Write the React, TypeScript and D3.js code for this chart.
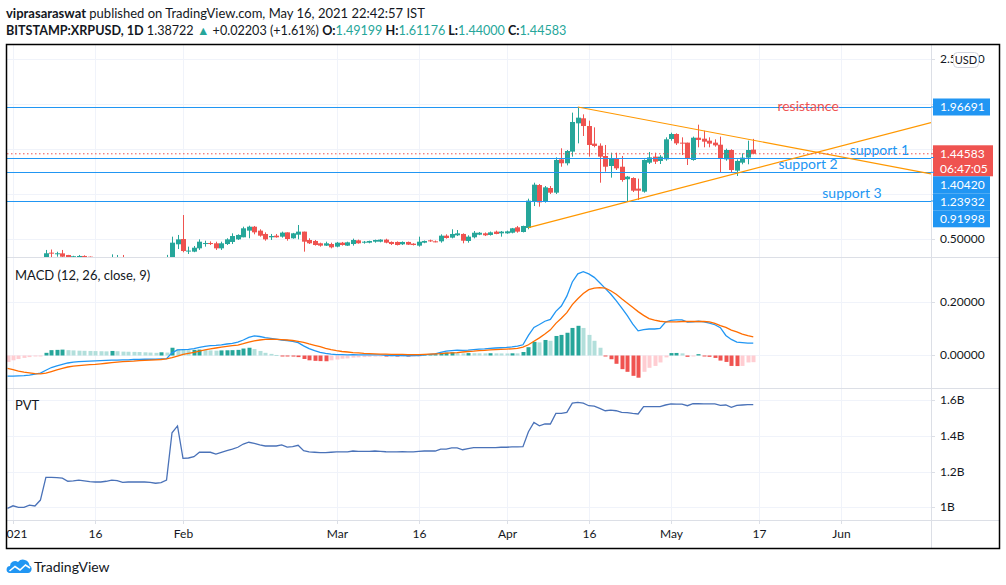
import * as d3 from "d3";

// Daily XRPUSD candles [open, high, low, close], first bar 2020-12-31
const START = Date.UTC(2020, 11, 31);
const CANDLES: [number, number, number, number][] = [
  [0.218, 0.23, 0.21, 0.22], [0.22, 0.245, 0.215, 0.237], [0.237, 0.24, 0.215, 0.222], [0.222, 0.232, 0.216, 0.228],
  [0.228, 0.25, 0.205, 0.236], [0.236, 0.242, 0.218, 0.226], [0.226, 0.265, 0.225, 0.255], [0.255, 0.375, 0.25, 0.338],
  [0.345, 0.38, 0.285, 0.34], [0.335, 0.355, 0.3, 0.338], [0.337, 0.375, 0.285, 0.3], [0.319, 0.32, 0.245, 0.27],
  [0.285, 0.31, 0.275, 0.305], [0.29, 0.319, 0.28, 0.308], [0.308, 0.315, 0.29, 0.298], [0.3, 0.302, 0.27, 0.28],
  [0.28, 0.29, 0.27, 0.285], [0.285, 0.29, 0.275, 0.28], [0.28, 0.29, 0.27, 0.285], [0.285, 0.326, 0.28, 0.29],
  [0.285, 0.319, 0.265, 0.29], [0.29, 0.319, 0.25, 0.26], [0.26, 0.275, 0.245, 0.272], [0.272, 0.275, 0.26, 0.265],
  [0.265, 0.28, 0.26, 0.275], [0.275, 0.28, 0.265, 0.27], [0.27, 0.275, 0.26, 0.268], [0.268, 0.27, 0.25, 0.255],
  [0.255, 0.275, 0.25, 0.268], [0.268, 0.32, 0.26, 0.29], [0.29, 0.523, 0.28, 0.456], [0.438, 0.542, 0.385, 0.493],
  [0.497, 0.764, 0.349, 0.363], [0.358, 0.412, 0.33, 0.368], [0.356, 0.419, 0.35, 0.4], [0.393, 0.493, 0.375, 0.467],
  [0.447, 0.478, 0.412, 0.452], [0.452, 0.47, 0.43, 0.447], [0.449, 0.467, 0.375, 0.393], [0.393, 0.467, 0.375, 0.449],
  [0.441, 0.505, 0.43, 0.493], [0.464, 0.56, 0.441, 0.53], [0.493, 0.549, 0.486, 0.542], [0.516, 0.634, 0.516, 0.616],
  [0.59, 0.645, 0.505, 0.634], [0.634, 0.642, 0.549, 0.571], [0.59, 0.605, 0.523, 0.534], [0.553, 0.571, 0.478, 0.493],
  [0.516, 0.553, 0.486, 0.53], [0.534, 0.553, 0.512, 0.516], [0.523, 0.579, 0.512, 0.568], [0.571, 0.571, 0.478, 0.497],
  [0.505, 0.565, 0.5, 0.56], [0.545, 0.653, 0.493, 0.579], [0.579, 0.579, 0.356, 0.467], [0.486, 0.505, 0.441, 0.449],
  [0.475, 0.486, 0.423, 0.43], [0.449, 0.456, 0.412, 0.423], [0.423, 0.467, 0.419, 0.449], [0.441, 0.456, 0.393, 0.404],
  [0.412, 0.464, 0.404, 0.456], [0.456, 0.464, 0.423, 0.43], [0.423, 0.467, 0.42, 0.46], [0.441, 0.501, 0.423, 0.486],
  [0.482, 0.49, 0.445, 0.449], [0.456, 0.475, 0.445, 0.467], [0.456, 0.478, 0.449, 0.475], [0.467, 0.49, 0.456, 0.486],
  [0.467, 0.494, 0.46, 0.49], [0.49, 0.5, 0.449, 0.456], [0.464, 0.47, 0.43, 0.441], [0.464, 0.47, 0.425, 0.43],
  [0.438, 0.47, 0.43, 0.464], [0.464, 0.468, 0.43, 0.434], [0.445, 0.45, 0.425, 0.43], [0.423, 0.523, 0.412, 0.467],
  [0.456, 0.48, 0.45, 0.475], [0.482, 0.49, 0.465, 0.471], [0.471, 0.48, 0.46, 0.464], [0.471, 0.549, 0.456, 0.534],
  [0.534, 0.549, 0.501, 0.508], [0.512, 0.605, 0.504, 0.553], [0.538, 0.597, 0.53, 0.56], [0.553, 0.56, 0.449, 0.478],
  [0.475, 0.538, 0.456, 0.523], [0.516, 0.586, 0.504, 0.567], [0.545, 0.575, 0.54, 0.567], [0.56, 0.57, 0.53, 0.538],
  [0.542, 0.58, 0.535, 0.571], [0.579, 0.59, 0.55, 0.553], [0.56, 0.586, 0.523, 0.579], [0.56, 0.59, 0.555, 0.582],
  [0.567, 0.62, 0.56, 0.616], [0.627, 0.642, 0.567, 0.579], [0.575, 0.645, 0.57, 0.642], [0.62, 0.946, 0.605, 0.924],
  [0.913, 1.124, 0.864, 1.102], [1.098, 1.109, 0.857, 0.905], [0.916, 1.087, 0.902, 1.072], [1.065, 1.087, 0.998, 1.013],
  [1.013, 1.406, 0.998, 1.377], [1.384, 1.507, 1.302, 1.34], [1.34, 1.488, 1.317, 1.477], [1.47, 1.904, 1.414, 1.8],
  [1.785, 1.96691, 1.562, 1.848], [1.841, 1.885, 1.644, 1.755], [1.755, 1.815, 1.414, 1.544], [1.559, 1.74, 1.518, 1.533],
  [1.536, 1.562, 1.124, 1.414], [1.421, 1.544, 1.247, 1.302], [1.31, 1.458, 1.18, 1.395], [1.388, 1.458, 1.265, 1.284],
  [1.302, 1.421, 1.135, 1.154], [1.162, 1.199, 0.91998, 1.191], [1.176, 1.184, 1.02, 1.035], [1.058, 1.169, 0.931, 1.035],
  [1.024, 1.384, 1.013, 1.377], [1.347, 1.466, 1.332, 1.406], [1.414, 1.458, 1.332, 1.358], [1.366, 1.432, 1.332, 1.414],
  [1.384, 1.629, 1.369, 1.607], [1.611, 1.681, 1.592, 1.666], [1.666, 1.674, 1.544, 1.562], [1.57, 1.629, 1.432, 1.559],
  [1.57, 1.57, 1.321, 1.392], [1.377, 1.637, 1.369, 1.625], [1.625, 1.77, 1.518, 1.6], [1.614, 1.703, 1.518, 1.581],
  [1.592, 1.629, 1.518, 1.559], [1.57, 1.607, 1.525, 1.54], [1.547, 1.637, 1.236, 1.395], [1.384, 1.503, 1.369, 1.488],
  [1.488, 1.496, 1.236, 1.265], [1.258, 1.384, 1.199, 1.366], [1.347, 1.451, 1.329, 1.403], [1.403, 1.592, 1.329, 1.488],
  [1.49199, 1.61176, 1.44, 1.44583],
];

// MACD (12, 26, close, 9): macd line, signal line, histogram
const MACD_LINE = [
  -0.077, -0.077, -0.076, -0.075, -0.073, -0.07, -0.066, -0.055, -0.045, -0.039, -0.033, -0.028, -0.025, -0.023, -0.022,
  -0.021, -0.02, -0.019, -0.018, -0.017, -0.017, -0.016, -0.016, -0.015, -0.015, -0.014, -0.014, -0.014, -0.013, -0.012,
  0.01, 0.021, 0.022, 0.023, 0.026, 0.03, 0.034, 0.037, 0.038, 0.04, 0.043, 0.045, 0.05, 0.058, 0.068, 0.073, 0.071,
  0.067, 0.064, 0.061, 0.058, 0.056, 0.053, 0.048, 0.036, 0.026, 0.018, 0.012, 0.008, 0.005, 0.003, 0.003, 0.002, 0.003,
  0.002, 0.002, 0.002, 0.002, 0.002, 0.001, 0, 0, 0, -0.001, 0, 0, 0.002, 0.004, 0.006, 0.012, 0.016, 0.018, 0.02, 0.019,
  0.02, 0.022, 0.024, 0.025, 0.027, 0.028, 0.029, 0.03, 0.032, 0.035, 0.04, 0.075, 0.105, 0.116, 0.128, 0.135, 0.165,
  0.185, 0.222, 0.275, 0.305, 0.313, 0.305, 0.292, 0.272, 0.251, 0.23, 0.205, 0.178, 0.15, 0.118, 0.092, 0.097, 0.099,
  0.099, 0.101, 0.125, 0.131, 0.133, 0.133, 0.125, 0.126, 0.128, 0.126, 0.121, 0.115, 0.104, 0.075, 0.06, 0.05, 0.048,
  0.046, 0.046,
];
const SIGNAL_LINE = [
  -0.048, -0.053, -0.058, -0.062, -0.065, -0.068, -0.069, -0.066, -0.06, -0.054, -0.048, -0.043, -0.04, -0.038, -0.036,
  -0.034, -0.033, -0.031, -0.029, -0.027, -0.025, -0.023, -0.022, -0.021, -0.019, -0.018, -0.017, -0.016, -0.015, -0.013,
  -0.008, -0.002, 0.004, 0.008, 0.012, 0.016, 0.021, 0.025, 0.028, 0.031, 0.034, 0.037, 0.039, 0.044, 0.05, 0.055, 0.058,
  0.06, 0.061, 0.06, 0.059, 0.058, 0.056, 0.053, 0.049, 0.043, 0.038, 0.033, 0.027, 0.022, 0.018, 0.015, 0.013, 0.011,
  0.01, 0.008, 0.007, 0.006, 0.005, 0.005, 0.004, 0.004, 0.004, 0.003, 0.003, 0.003, 0.004, 0.005, 0.006, 0.007, 0.009,
  0.01, 0.011, 0.013, 0.015, 0.016, 0.018, 0.019, 0.021, 0.022, 0.023, 0.024, 0.025, 0.027, 0.031, 0.04, 0.053, 0.066,
  0.08, 0.096, 0.12, 0.139, 0.16, 0.19, 0.212, 0.232, 0.246, 0.252, 0.254, 0.252, 0.242, 0.229, 0.212, 0.196, 0.18, 0.164,
  0.15, 0.138, 0.132, 0.128, 0.126, 0.126, 0.126, 0.127, 0.127, 0.127, 0.127, 0.127, 0.126, 0.12, 0.112, 0.105, 0.095,
  0.088, 0.08, 0.074, 0.07,
];
const HISTOGRAM = [
  -0.024, -0.018, -0.013, -0.009, -0.006, -0.003, -0.001, 0.01, 0.02, 0.021, 0.022, 0.02, 0.019, 0.018, 0.0175, 0.017,
  0.0165, 0.016, 0.0155, 0.017, 0.016, 0.0145, 0.014, 0.0135, 0.013, 0.012, 0.011, 0.01, 0.012, 0.011, 0.029, 0.024, 0.022,
  0.02, 0.021, 0.022, 0.02, 0.019, 0.018, 0.019, 0.0195, 0.02, 0.021, 0.026, 0.029, 0.024, 0.017, 0.01, 0.006, 0.002,
  -0.002, -0.003, -0.004, -0.006, -0.013, -0.018, -0.02, -0.021, -0.0215, -0.018, -0.015, -0.012, -0.011, -0.008, -0.007,
  -0.006, -0.005, -0.004, -0.003, -0.004, -0.0035, -0.004, -0.0035, -0.004, -0.0035, -0.003, 0.004, 0.0045, 0.005, 0.01,
  0.011, 0.012, 0.009, 0.008, 0.009, 0.0085, 0.0082, 0.008, 0.0085, 0.008, 0.0078, 0.0076, 0.0082, 0.0079, 0.013, 0.031,
  0.051, 0.049, 0.058, 0.055, 0.073, 0.077, 0.085, 0.103, 0.111, 0.103, 0.077, 0.055, 0.029, -0.002, -0.014, -0.031,
  -0.051, -0.061, -0.076, -0.083, -0.061, -0.046, -0.039, -0.026, -0.007, 0.009, 0.0095, 0.008, -0.005, -0.003, 0.005,
  -0.003, -0.005, -0.009, -0.019, -0.024, -0.039, -0.0395, -0.039, -0.026, -0.025,
];

// Price Volume Trend, billions
const PVT = [
  0.995, 1.009, 1.0, 1.0, 1.013, 1.008, 1.041, 1.168, 1.168, 1.166, 1.163, 1.146, 1.148, 1.152, 1.148, 1.144, 1.142,
  1.142, 1.146, 1.152, 1.15, 1.14, 1.142, 1.142, 1.142, 1.142, 1.14, 1.135, 1.138, 1.153, 1.417, 1.455, 1.274, 1.276,
  1.283, 1.308, 1.308, 1.308, 1.298, 1.308, 1.317, 1.326, 1.336, 1.354, 1.364, 1.358, 1.349, 1.343, 1.343, 1.343, 1.349,
  1.337, 1.339, 1.347, 1.317, 1.31, 1.308, 1.306, 1.306, 1.308, 1.31, 1.31, 1.31, 1.315, 1.313, 1.313, 1.313, 1.315,
  1.313, 1.311, 1.31, 1.31, 1.311, 1.31, 1.31, 1.313, 1.315, 1.315, 1.315, 1.326, 1.326, 1.332, 1.332, 1.322, 1.328,
  1.334, 1.334, 1.334, 1.334, 1.334, 1.336, 1.336, 1.338, 1.338, 1.339, 1.423, 1.475, 1.456, 1.466, 1.466, 1.525, 1.525,
  1.531, 1.582, 1.587, 1.582, 1.568, 1.566, 1.553, 1.54, 1.543, 1.54, 1.531, 1.529, 1.525, 1.522, 1.563, 1.563, 1.563,
  1.563, 1.572, 1.578, 1.577, 1.577, 1.568, 1.579, 1.579, 1.578, 1.578, 1.578, 1.57, 1.572, 1.559, 1.57, 1.572, 1.574,
  1.574,
];

const LEVELS = [
  { name: "resistance", value: 1.96691 },
  { name: "support 1", value: 1.4042 },
  { name: "support 2", value: 1.23932 },
  { name: "support 3", value: 0.91998 },
];
const TRENDLINES: [string, number, string, number][] = [
  ["2021-04-14", 1.96691, "2021-05-16", 1.597],
  ["2021-04-05", 0.623, "2021-05-16", 1.2765],
];
const TIME_TICKS: [string, string][] = [
  ["2021-01-01", "2021"], ["2021-01-16", "16"], ["2021-02-01", "Feb"], ["2021-03-01", "Mar"], ["2021-03-16", "16"],
  ["2021-04-01", "Apr"], ["2021-04-16", "16"], ["2021-05-01", "May"], ["2021-05-17", "17"], ["2021-06-01", "Jun"],
];
const PRICE_TICKS = [0.5, 1, 1.5, 2, 2.5];
const MACD_TICKS = [0, 0.2];
const PVT_TICKS = [1, 1.2, 1.4, 1.6];
const COUNTDOWN = "06:47:05";
const PREV_CLOSE = "1.38722";
const CHANGE = "+0.02203 (+1.61%)";

// where each level's caption sits: date, and whether it rides on or above the line
const LEVEL_CAPTIONS: Record<string, { at: string; color: string; onLine: boolean }> = {
  resistance: { at: "2021-05-26", color: "#f05350", onLine: true },
  "support 1": { at: "2021-06-08", color: "#2196f3", onLine: false },
  "support 2": { at: "2021-05-26", color: "#2196f3", onLine: false },
  "support 3": { at: "2021-06-03", color: "#2196f3", onLine: false },
};

const GREEN = "#26a69a";
const RED = "#ef5350";
const BLUE = "#2196f3";
const ORANGE = "#ff9800";
const GRID = "#f0f3fa";
const SEP = "#dcdfe6";
const TEXT = "#131722";
const FONT = "Lato, 'Open Sans', sans-serif";

const parse = d3.utcParse("%Y-%m-%d");

const L = 7, R = 999, PR = 931, TOP = 45, BOT = 548;
const MAIN: [number, number] = [45, 257];
const MACDP: [number, number] = [257, 388];
const PVTP: [number, number] = [388, 520];

export default function App() {
  const dates = CANDLES.map((_, i) => d3.utcDay.offset(new Date(START), i));
  const x = d3.scaleUtc().domain([parse("2021-01-01")!, parse("2021-06-01")!]).range([13, 841]);
  const y = d3.scaleLinear().domain([0.2965, 2.6573]).range([MAIN[1], MAIN[0]]);
  const yM = d3.scaleLinear().domain([-0.1215, 0.3682]).range([MACDP[1], MACDP[0]]);
  const yP = d3.scaleLinear().domain([0.9296, 1.667]).range([PVTP[1], PVTP[0]]);
  const fmt5 = d3.format(".5f");
  const fmtB = (v: number) => `${d3.format("~g")(v)}B`;
  const cx = (i: number) => Math.round(x(dates[i])) + 0.5;

  const macdPath = d3.line<number>().x((_, i) => x(dates[i])).y((v) => yM(v))(MACD_LINE)!;
  const signalPath = d3.line<number>().x((_, i) => x(dates[i])).y((v) => yM(v))(SIGNAL_LINE)!;
  const pvtPath = d3.line<number>().x((_, i) => x(dates[i])).y((v) => yP(v))(PVT)!;

  const histColor = (i: number) => {
    const v = HISTOGRAM[i];
    const prev = i > 0 ? HISTOGRAM[i - 1] : -Infinity;
    if (v >= 0) return prev < v ? "#26a69a" : "#b2dfdb";
    return prev < v ? "#ffcdd2" : "#f05350";
  };

  // trend rays: start at first anchor, extended to the price scale
  const rays = TRENDLINES.map(([d1, v1, d2, v2]) => {
    const x1 = x(parse(d1)!), y1 = y(v1), x2 = x(parse(d2)!), y2 = y(v2);
    const k = (y2 - y1) / (x2 - x1);
    return { x1, y1, x2: PR, y2: y1 + k * (PR - x1) };
  });

  const last = CANDLES[CANDLES.length - 1];
  const lastClose = last[3];

  // price-scale markers, stacked so they never overlap
  const markers = [
    ...LEVELS.map((l) => ({ value: l.value, color: BLUE, h: 17, lines: [fmt5(l.value)] })),
    { value: lastClose, color: RED, h: 31, lines: [fmt5(lastClose), COUNTDOWN] },
  ]
    .map((m) => ({ ...m, top: y(m.value) - 8.5 }))
    .sort((a, b) => a.top - b.top);
  let floor = -Infinity;
  markers.forEach((m) => {
    m.top = Math.max(m.top, floor);
    floor = m.top + m.h;
  });
  // tick labels hidden under a marker are skipped, as on the live scale
  const freeTicks = PRICE_TICKS.filter((v) => {
    const ty = y(v);
    return !markers.some((m) => ty > m.top - 4 && ty < m.top + m.h + 4);
  });

  return (
    <svg
      width={1006}
      height={585}
      style={{ position: "absolute", left: 0, top: 0, background: "#fff" }}
      fontFamily={FONT}
    >
      <defs>
        <clipPath id="clip-main"><rect x={L} y={MAIN[0]} width={PR - L} height={MAIN[1] - MAIN[0]} /></clipPath>
        <clipPath id="clip-macd"><rect x={L} y={MACDP[0]} width={PR - L} height={MACDP[1] - MACDP[0]} /></clipPath>
        <clipPath id="clip-pvt"><rect x={L} y={PVTP[0]} width={PR - L} height={PVTP[1] - PVTP[0]} /></clipPath>
        <clipPath id="clip-time"><rect x={L} y={PVTP[1]} width={PR - L} height={BOT - PVTP[1]} /></clipPath>
      </defs>
      <rect width={1006} height={585} fill="#fff" />

      {/* header */}
      <text x={6} y={17.5} fontSize={13} fill={TEXT}>
        <tspan fontWeight={700}>viprasaraswat</tspan>
        <tspan> published on TradingView.com, May 16, 2021 22:42:57 IST</tspan>
      </text>
      <text x={6} y={34.5} fontSize={12.6} fill={TEXT}>
        <tspan fontWeight={700}>BITSTAMP:XRPUSD, 1D</tspan>
        <tspan> {PREV_CLOSE} </tspan>
        <tspan fill={GREEN}>▲</tspan>
        <tspan> {CHANGE} </tspan>
        <tspan fontWeight={700}>O:</tspan><tspan fill={GREEN}>{fmt5(last[0])}</tspan>
        <tspan fontWeight={700}> H:</tspan><tspan fill={GREEN}>{fmt5(last[1])}</tspan>
        <tspan fontWeight={700}> L:</tspan><tspan fill={GREEN}>{fmt5(last[2])}</tspan>
        <tspan fontWeight={700}> C:</tspan><tspan fill={GREEN}>{fmt5(last[3])}</tspan>
      </text>

      {/* grid */}
      <g stroke={GRID} strokeWidth={1}>
        {TIME_TICKS.map(([d]) => (
          <line key={d} x1={Math.round(x(parse(d)!)) + 0.5} x2={Math.round(x(parse(d)!)) + 0.5} y1={TOP} y2={PVTP[1]} />
        ))}
        {PRICE_TICKS.map((v) => (
          <line key={`p${v}`} x1={L} x2={PR} y1={Math.round(y(v)) + 0.5} y2={Math.round(y(v)) + 0.5} />
        ))}
        {MACD_TICKS.map((v) => (
          <line key={`m${v}`} x1={L} x2={PR} y1={Math.round(yM(v)) + 0.5} y2={Math.round(yM(v)) + 0.5} />
        ))}
        {PVT_TICKS.map((v) => (
          <line key={`v${v}`} x1={L} x2={PR} y1={Math.round(yP(v)) + 0.5} y2={Math.round(yP(v)) + 0.5} />
        ))}
      </g>

      {/* candles */}
      <g clipPath="url(#clip-main)">
        {CANDLES.map(([o, h, l, c], i) => {
          const col = c >= o ? GREEN : RED;
          const top = y(Math.max(o, c));
          const bh = Math.max(1, y(Math.min(o, c)) - top);
          return (
            <g key={i}>
              <line x1={cx(i)} x2={cx(i)} y1={y(h)} y2={y(l)} stroke={col} strokeWidth={1} />
              <rect x={cx(i) - 2.5} y={top} width={5} height={bh} fill={col} />
            </g>
          );
        })}
      </g>

      {/* drawings */}
      <g clipPath="url(#clip-main)">
        {LEVELS.map((l) => (
          <line key={l.name} x1={L} x2={PR} y1={Math.round(y(l.value)) + 0.5} y2={Math.round(y(l.value)) + 0.5} stroke={BLUE} strokeWidth={1.2} />
        ))}
        {rays.map((r, i) => (
          <line key={i} x1={r.x1} y1={r.y1} x2={r.x2} y2={r.y2} stroke={ORANGE} strokeWidth={1.2} />
        ))}
        <line x1={L} x2={PR} y1={y(lastClose)} y2={y(lastClose)} stroke={RED} strokeWidth={1} strokeDasharray="1.5 2.5" />
        {LEVELS.map((l) => {
          const cap = LEVEL_CAPTIONS[l.name];
          return (
            <text
              key={`t${l.name}`}
              x={x(parse(cap.at)!)}
              y={cap.onLine ? y(l.value) + 4.5 : y(l.value) - 3}
              textAnchor="middle"
              fontSize={14}
              fill={cap.color}
            >
              {l.name}
            </text>
          );
        })}
      </g>

      {/* MACD */}
      <text x={15} y={279.5} fontSize={13} fill={TEXT}>MACD (12, 26, close, 9)</text>
      <g clipPath="url(#clip-macd)">
        {HISTOGRAM.map((v, i) => {
          const top = yM(Math.max(v, 0));
          const hh = Math.max(1, Math.abs(yM(v) - yM(0)));
          return <rect key={i} x={cx(i) - 2} y={v >= 0 ? top : yM(0)} width={4} height={hh} fill={histColor(i)} />;
        })}
        <path d={macdPath} fill="none" stroke="#2196f3" strokeWidth={1.3} />
        <path d={signalPath} fill="none" stroke="#ff6d00" strokeWidth={1.3} />
      </g>

      {/* PVT */}
      <text x={15} y={409.5} fontSize={13} fill={TEXT}>PVT</text>
      <g clipPath="url(#clip-pvt)">
        <path d={pvtPath} fill="none" stroke="#4a72b8" strokeWidth={1.3} />
      </g>

      {/* separators */}
      <g stroke={SEP} strokeWidth={1}>
        <line x1={L} x2={R} y1={MAIN[1] + 0.5} y2={MAIN[1] + 0.5} />
        <line x1={L} x2={R} y1={MACDP[1] + 0.5} y2={MACDP[1] + 0.5} />
        <line x1={L} x2={R} y1={PVTP[1] + 0.5} y2={PVTP[1] + 0.5} />
        <line x1={PR + 0.5} x2={PR + 0.5} y1={TOP} y2={BOT} />
      </g>

      {/* time scale */}
      <g clipPath="url(#clip-time)">
        {TIME_TICKS.map(([d, label]) => {
          const xx = Math.round(x(parse(d)!)) + 0.5;
          return (
            <g key={d}>
              <line x1={xx} x2={xx} y1={PVTP[1]} y2={PVTP[1] + 4} stroke={SEP} />
              <text x={xx} y={538} textAnchor="middle" fontSize={12} fill={TEXT}>{label}</text>
            </g>
          );
        })}
      </g>

      {/* price scales */}
      <g fontSize={12} fill={TEXT}>
        {PRICE_TICKS.map((v) => (
          <line key={`t${v}`} x1={PR} x2={PR + 4} y1={Math.round(y(v)) + 0.5} y2={Math.round(y(v)) + 0.5} stroke={SEP} />
        ))}
        {freeTicks.map((v) => (
          <text key={v} x={940} y={y(v) + 4}>{fmt5(v)}</text>
        ))}
        {MACD_TICKS.map((v) => (
          <g key={v}>
            <line x1={PR} x2={PR + 4} y1={Math.round(yM(v)) + 0.5} y2={Math.round(yM(v)) + 0.5} stroke={SEP} />
            <text x={940} y={yM(v) + 4}>{fmt5(v)}</text>
          </g>
        ))}
        {PVT_TICKS.map((v) => (
          <g key={v}>
            <line x1={PR} x2={PR + 4} y1={Math.round(yP(v)) + 0.5} y2={Math.round(yP(v)) + 0.5} stroke={SEP} />
            <text x={940} y={yP(v) + 4}>{fmtB(v)}</text>
          </g>
        ))}
      </g>
      {markers.map((m) => (
        <g key={m.lines[0]}>
          <line x1={PR} x2={934} y1={y(m.value)} y2={y(m.value)} stroke={m.color} />
          <rect x={933} y={m.top} width={m.color === RED ? 60 : 57} height={m.h} fill={m.color} />
          {m.lines.map((t, k) => (
            <text key={t} x={940} y={m.top + 12.5 + k * 15} fontSize={12} fill="#fff">{t}</text>
          ))}
        </g>
      ))}
      <rect x={953.5} y={52.5} width={25} height={15} rx={4} fill="#fff" stroke="#d1d4dc" />
      <text x={966} y={64} textAnchor="middle" fontSize={11} fill={TEXT}>USD</text>

      {/* frame */}
      <rect x={6.5} y={44.5} width={993} height={504} fill="none" stroke="#000" strokeWidth={1.5} />

      {/* logo */}
      <g transform="translate(6,558)">
        <path
          d="M3,15 H22 A4,4 0 0 0 23.5,7.5 A6.5,6.5 0 0 0 12,4 A5,5 0 0 0 4,8 A3.6,3.6 0 0 0 3,15 Z"
          fill={BLUE}
        />
        <polyline points="3.5,13 9,8.5 14,12 19.5,7 24,10" fill="none" stroke="#fff" strokeWidth={1.6} />
      </g>
      <text x={34} y={572} fontSize={14} fill={TEXT}>TradingView</text>
    </svg>
  );
}
